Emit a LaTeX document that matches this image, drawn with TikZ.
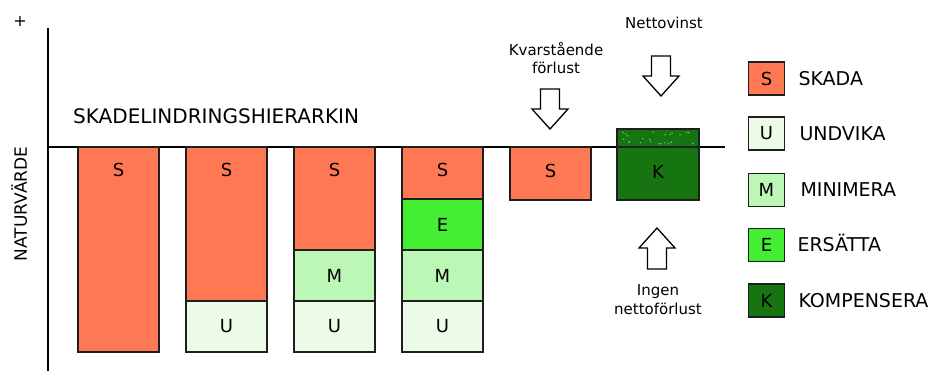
\documentclass[tikz,border=0pt]{standalone}
\usepackage{fontspec}
\setmainfont{DejaVu Sans}
\usetikzlibrary{positioning}

\definecolor{skada}{RGB}{255,120,84}
\definecolor{undvika}{RGB}{236,250,232}
\definecolor{minimera}{RGB}{189,247,181}
\definecolor{ersatta}{RGB}{68,238,51}
\definecolor{kompensera}{RGB}{22,117,16}
\definecolor{prick}{RGB}{110,205,95}
\definecolor{kant}{RGB}{30,30,30}

\tikzset{
	seg/.style={draw=kant, line width=1.6pt},
	bokstav/.style={font=\fontsize{18}{20}\selectfont, inner sep=0pt},
	etikett/.style={font=\fontsize{15}{18}\selectfont, align=center, inner sep=0pt, anchor=base},
	legruta/.style={draw=kant, line width=1.6pt, minimum width=36pt, minimum height=33pt, inner sep=0pt, font=\fontsize{18}{20}\selectfont},
	legtext/.style={font=\fontsize{19}{22}\selectfont, inner sep=0pt, text height=13.8pt, text depth=0pt},
	blockpil/.style={draw=black, line width=1.3pt, fill=white, line join=miter},
	pics/pilned/.style={code={
		\draw[blockpil] (-9.5,0) -- (9.5,0) -- (9.5,20) -- (18,20) -- (0,40) -- (-18,20) -- (-9.5,20) -- cycle;
	}},
	pics/pilupp/.style={code={
		\draw[blockpil] (0,0) -- (18,20) -- (9.5,20) -- (9.5,41) -- (-9.5,41) -- (-9.5,20) -- (-18,20) -- cycle;
	}},
}

\begin{document}
\begin{tikzpicture}[x=1pt, y=-1pt]
	\useasboundingbox (0,0) rectangle (931,391);
	
	% ---------------------
	% Axes
	\coordinate (AxisTop) at (48,28);
	\coordinate (AxisBot) at (48,371);
	\coordinate (Zero) at (48,147);
	\coordinate (ZeroEnd) at (725,147);
	
	\draw[line width=1.8pt] (AxisTop) -- (AxisBot);
	\draw[line width=1.5pt] (Zero) -- (ZeroEnd);
	
	\node[font=\fontsize{16}{18}\selectfont, inner sep=0pt] (plus) at (20,21) {+};
	\node[rotate=90, anchor=base, font=\fontsize{17}{20}\selectfont, inner sep=0pt] (naturvarde) at (27,204) {NATURVÄRDE};
	\node[anchor=base west, font=\fontsize{20}{22}\selectfont, inner sep=0pt] (titel) at (73,123) {SKADELINDRINGSHIERARKIN};
	
	% ---------------------
	% Column origins
	\coordinate (Col1) at (78,147);
	\path (Col1) +(108,0) coordinate (Col2);
	\path (Col2) +(108,0) coordinate (Col3);
	\path (Col3) +(108,0) coordinate (Col4);
	\path (Col4) +(108,0) coordinate (Col5);
	\path (Col5) +(107,0) coordinate (Col6);
	
	% column 1
	\filldraw[seg, fill=skada] (Col1) rectangle +(81,205);
	\path (Col1) +(40.5,23) node[bokstav] (S1) {S};
	
	% column 2
	\filldraw[seg, fill=skada] (Col2) rectangle +(81,154);
	\filldraw[seg, fill=undvika] (Col2) ++(0,154) rectangle +(81,51);
	\path (Col2) +(40.5,23) node[bokstav] (S2) {S};
	\path (Col2) +(40.5,179.5) node[bokstav] (U2) {U};
	
	% column 3
	\filldraw[seg, fill=skada] (Col3) rectangle +(81,103);
	\filldraw[seg, fill=minimera] (Col3) ++(0,103) rectangle +(81,51);
	\filldraw[seg, fill=undvika] (Col3) ++(0,154) rectangle +(81,51);
	\path (Col3) +(40.5,23) node[bokstav] (S3) {S};
	\path (Col3) +(40.5,128.5) node[bokstav] (M3) {M};
	\path (Col3) +(40.5,179.5) node[bokstav] (U3) {U};
	
	% column 4
	\filldraw[seg, fill=skada] (Col4) rectangle +(81,52);
	\filldraw[seg, fill=ersatta] (Col4) ++(0,52) rectangle +(81,51);
	\filldraw[seg, fill=minimera] (Col4) ++(0,103) rectangle +(81,51);
	\filldraw[seg, fill=undvika] (Col4) ++(0,154) rectangle +(81,51);
	\path (Col4) +(40.5,23) node[bokstav] (S4) {S};
	\path (Col4) +(40.5,77.5) node[bokstav] (E4) {E};
	\path (Col4) +(40.5,128.5) node[bokstav] (M4) {M};
	\path (Col4) +(40.5,179.5) node[bokstav] (U4) {U};
	
	% column 5
	\filldraw[seg, fill=skada] (Col5) rectangle +(81,53);
	\path (Col5) +(40.5,24) node[bokstav] (S5) {S};
	
	% column 6, with the dotted net gain on top
	\fill[kompensera] (Col6) ++(0,-18) rectangle +(82,71);
	\pgfmathsetseed{12}
	\foreach \k in {1,...,24}
		\fill[prick] (620+76*rnd,132+12*rnd) circle (0.8);
	\draw[seg] (Col6) -- +(82,0);
	\draw[seg] (Col6) ++(0,-18) rectangle +(82,71);
	\path (Col6) +(41,25) node[bokstav] (K6) {K};
	
	% ---------------------
	% Arrows and their texts
	\pic (PilKvar) at (550,89) {pilned};
	\pic (PilNetto) at (661,56) {pilned};
	\pic (PilIngen) at (657,228) {pilupp};
	
	\node[etikett] (kvar) at (556,73) {Kvarstående\\förlust};
	\node[etikett] (netto) at (664,28) {Nettovinst};
	\node[etikett, font=\fontsize{15}{19}\selectfont] (ingen) at (658,314) {Ingen\\nettoförlust};
	
	% ---------------------
	% Legend
	\node[legruta, fill=skada] (legS) at (766.5,78.5) {S};
	\node[legruta, fill=undvika] (legU) at (766.5,133.5) {U};
	\node[legruta, fill=minimera] (legM) at (766.5,190) {M};
	\node[legruta, fill=ersatta] (legE) at (766.5,245) {E};
	\node[legruta, fill=kompensera] (legK) at (766.5,300.5) {K};
	
	\node[legtext, right=13pt of legS] (txtS) {SKADA};
	\node[legtext, right=14pt of legU] (txtU) {UNDVIKA};
	\node[legtext, right=15pt of legM] (txtM) {MINIMERA};
	\node[legtext, right=12pt of legE] (txtE) {ERSÄTTA};
	\node[legtext, right=13pt of legK] (txtK) {KOMPENSERA};
	
\end{tikzpicture}
\end{document}
